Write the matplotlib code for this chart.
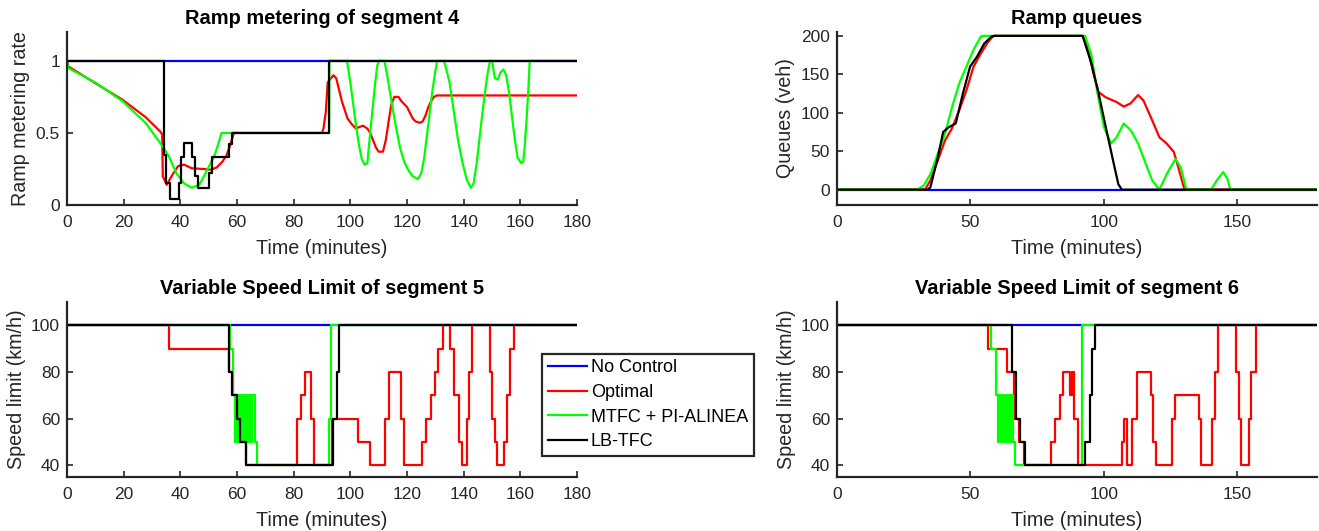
import numpy as np
import matplotlib.pyplot as plt

plt.rcParams['font.family'] = ['Liberation Sans', 'DejaVu Sans']

# ---------------- ramp metering of segment 4 ----------------
rm_opt_t = [0, 0.5, 1.4, 10, 19.6, 27.7, 32.9, 33.6, 33.8, 35.2, 37.2, 39.2, 41.3, 44, 48, 50.7, 52.8,
            54.8, 56.2, 57.5, 58.9, 90, 90.5, 91.3, 92, 94, 95, 96, 97, 98, 99, 100.5, 102, 103, 104.5,
            106, 107, 108, 109, 110, 111.5, 112.5, 113.5, 114.5, 115.5, 117, 118, 119, 120, 121, 122,
            123, 124.5, 125.5, 126.5, 127.5, 128.5, 129.5, 130.5, 180]
rm_opt_v = [1, 0.96, 0.95, 0.845, 0.73, 0.61, 0.51, 0.49, 0.2, 0.14, 0.21, 0.27, 0.28, 0.255, 0.25, 0.245,
            0.26, 0.3, 0.34, 0.41, 0.5, 0.5, 0.53, 0.64, 0.85, 0.9, 0.88, 0.8, 0.72, 0.66, 0.6, 0.56, 0.53,
            0.54, 0.55, 0.53, 0.5, 0.45, 0.4, 0.37, 0.37, 0.45, 0.58, 0.7, 0.75, 0.75, 0.72, 0.7, 0.68,
            0.64, 0.6, 0.58, 0.57, 0.58, 0.62, 0.68, 0.72, 0.75, 0.76, 0.76]

rm_mtfc_t = [0, 0.5, 1.4, 10, 19.6, 27.7, 32.9, 35.9, 38.6, 41.3, 44, 46.7, 49.4, 52, 53.5, 54.5, 92.5,
             92.6, 98.8, 100, 101, 102, 103, 104, 105, 106, 106.5, 107.5, 108.5, 109.5, 110.2, 112,
             113, 114.5, 116, 117.5, 119, 120.5, 122, 123.8, 125, 126, 127, 128, 129, 130, 130.6, 133,
             133.5, 135, 136.5, 138, 139.5, 141, 142.5, 143.5, 144.5, 145.5, 146.5, 147.5, 148.5,
             149.3, 150, 151, 152, 153, 154, 155, 156, 157, 158, 159, 160.3, 161, 161.5, 162.2,
             162.8, 163.3, 180]
rm_mtfc_v = [1, 0.95, 0.94, 0.85, 0.72, 0.57, 0.43, 0.34, 0.22, 0.15, 0.12, 0.14, 0.24, 0.34, 0.43, 0.5,
             0.5, 1, 1, 0.85, 0.7, 0.55, 0.42, 0.32, 0.28, 0.29, 0.4, 0.6, 0.8, 0.97, 1, 1, 0.9, 0.72,
             0.55, 0.4, 0.3, 0.24, 0.2, 0.18, 0.22, 0.32, 0.48, 0.64, 0.8, 0.93, 1, 1, 0.97, 0.85,
             0.65, 0.45, 0.3, 0.18, 0.12, 0.15, 0.28, 0.45, 0.62, 0.78, 0.92, 1, 1, 0.88, 0.87, 0.92,
             0.94, 0.9, 0.78, 0.62, 0.46, 0.33, 0.29, 0.3, 0.4, 0.6, 0.8, 1, 1]

rm_lb_t = [0, 34.2, 35, 36.2, 39.5, 40.3, 41.2, 44, 45.3, 46.4, 50, 51.3, 57, 58.3, 92.3, 180]
rm_lb_v = [1, 0.35, 0.15, 0.04, 0.15, 0.33, 0.43, 0.33, 0.2, 0.12, 0.22, 0.33, 0.42, 0.5, 1, 1]

# ---------------- ramp queues ----------------
q_opt_t = [0, 33, 35, 37.8, 40.5, 43, 45.8, 48.5, 51.2, 53.9, 56.6, 58.6, 92, 94, 96, 98, 100.8, 104.8,
           107.5, 110, 112.9, 114.9, 118.2, 120.9, 123.6, 126.3, 128.3, 130.3, 180]
q_opt_v = [0, 0, 12, 38, 64, 79, 103, 129, 160, 177, 192, 200, 200, 186, 153, 127, 120, 114, 108, 112,
           123, 116, 90, 68, 60, 49, 25, 0, 0]

q_mtfc_t = [0, 30, 32.4, 35, 37.8, 40.5, 43.2, 45.8, 48.5, 51.2, 53.9, 54.6, 93, 95.4, 97.5, 100.1,
            102.8, 104.8, 107.5, 110.2, 112.9, 115.5, 118.2, 120.9, 123.6, 126.9, 128.9, 131, 140.3,
            142.4, 144.8, 146.4, 147.5, 180]
q_mtfc_v = [0, 0, 5, 20, 47, 73, 108, 138, 160, 182, 199, 200, 200, 175, 129, 81, 60, 68, 86, 77, 60,
            36, 12, 0, 20, 40, 29, 0, 0, 12, 23, 14, 0, 0]

q_lb_t = [0, 34, 35, 37.8, 39.8, 41.8, 44.5, 47.2, 49.9, 52.5, 55.2, 57.9, 59.2, 92.1, 95.4, 98.1,
          100.8, 103.5, 105.5, 106.8, 180]
q_lb_v = [0, 0, 3, 42, 75, 81, 86, 125, 160, 173, 190, 199, 200, 200, 164, 125, 81, 38, 7, 0, 0]

# ---------------- variable speed limit, segment 5 ----------------
v5_opt_t = [0, 36, 57, 58.5, 60, 61, 63, 81, 82.5, 84, 86, 87, 93.5, 102.8, 107, 112.3, 113.5, 117.8,
            119, 125.3, 126.8, 128.3, 129.8, 131, 132.6, 135.2, 136.5, 138.3, 139.3, 141.2, 142, 143,
            149.1, 150, 151, 151.6, 154.3, 155.2, 156.2, 157.6, 180]
v5_opt_v = [100, 90, 80, 70, 60, 50, 40, 60, 70, 80, 60, 40, 60, 50, 40, 60, 80, 60, 40, 50, 60, 70,
            80, 90, 100, 90, 70, 50, 40, 60, 80, 100, 80, 60, 50, 40, 50, 70, 90, 100, 100]

v5_mtfc_t = [0, 57.5, 58.5, 59.3, 60, 60.6, 61.3, 62, 62.7, 63.4, 64.1, 64.8, 65.4, 66.2, 67.2, 92.4,
             93, 180]
v5_mtfc_v = [100, 90, 70, 50, 70, 50, 70, 50, 70, 50, 70, 50, 70, 50, 40, 60, 100, 100]

v5_lb_t = [0, 57, 58.3, 60, 61, 63.2, 93.8, 95.2, 96, 180]
v5_lb_v = [100, 80, 70, 60, 50, 40, 60, 80, 100, 100]

# ---------------- variable speed limit, segment 6 ----------------
v6_opt_t = [0, 56.6, 63.7, 66.3, 68.3, 70, 80.4, 81.7, 83.6, 84.6, 87.4, 88.2, 89, 90.4, 106.8, 107.8,
            108.6, 110.8, 112.4, 117.6, 118.5, 119.5, 125.6, 126.6, 135.6, 136.6, 140.8, 141.8, 142.8,
            149.7, 150.6, 151.6, 154.4, 155.3, 157.1, 180]
v6_opt_v = [100, 90, 80, 60, 50, 40, 50, 60, 70, 80, 70, 80, 60, 40, 50, 60, 40, 60, 80, 70, 50, 40,
            60, 70, 60, 40, 60, 80, 100, 80, 60, 40, 60, 80, 100, 100]

v6_mtfc_t = [0, 57.6, 59.5, 60.3, 60.9, 61.5, 62.1, 62.7, 63.3, 63.9, 64.5, 65.1, 65.7, 66, 66.8, 92,
             180]
v6_mtfc_v = [100, 90, 70, 50, 70, 50, 70, 50, 70, 50, 70, 50, 70, 50, 40, 100, 100]

v6_lb_t = [0, 65.7, 67, 68.6, 70.5, 93, 95, 95.7, 96.7, 180]
v6_lb_v = [100, 80, 60, 50, 40, 50, 70, 90, 100, 100]

names = ['No Control', 'Optimal', 'MTFC + PI-ALINEA', 'LB-TFC']
colors = ['#0000ff', '#ff0000', '#00ff00', '#000000']
gray = (0.15, 0.15, 0.15)

fig = plt.figure(figsize=(13.19, 5.31), dpi=100)
ax1 = fig.add_axes([0.0508, 0.6139, 0.3867, 0.3258])
ax2 = fig.add_axes([0.6346, 0.6139, 0.3639, 0.3258])
ax3 = fig.add_axes([0.0508, 0.1017, 0.3867, 0.3296])
ax4 = fig.add_axes([0.6346, 0.1017, 0.3639, 0.3296])

lw = 1.6
tsize = 14.4
lsize = 14.2

# panel 1
ax1.plot([0, 180], [1, 1], color=colors[0], lw=lw)
ax1.plot(rm_opt_t, rm_opt_v, color=colors[1], lw=lw)
ax1.plot(rm_mtfc_t, rm_mtfc_v, color=colors[2], lw=lw)
ax1.plot(rm_lb_t, rm_lb_v, color=colors[3], lw=lw, drawstyle='steps-post')
ax1.set_xlim(0, 180)
ax1.set_ylim(0, 1.2)
ax1.set_xticks(np.arange(0, 181, 20))
ax1.set_yticks([0, 0.5, 1])
ax1.set_yticklabels(['0', '0.5', '1'])
ax1.set_title('Ramp metering of segment 4', fontweight='bold', fontsize=tsize)
ax1.set_ylabel('Ramp metering rate')
ax1.set_xlabel('Time (minutes)')

# panel 2
ax2.plot([0, 180], [0, 0], color=colors[0], lw=lw)
ax2.plot(q_opt_t, q_opt_v, color=colors[1], lw=lw)
ax2.plot(q_mtfc_t, q_mtfc_v, color=colors[2], lw=lw)
ax2.plot(q_lb_t, q_lb_v, color=colors[3], lw=lw)
ax2.set_xlim(0, 180)
ax2.set_ylim(-20, 205)
ax2.set_xticks([0, 50, 100, 150])
ax2.set_yticks([0, 50, 100, 150, 200])
ax2.set_title('Ramp queues', fontweight='bold', fontsize=tsize)
ax2.set_ylabel('Queues (veh)')
ax2.set_xlabel('Time (minutes)')

# panel 3
ax3.plot([0, 180], [100, 100], color=colors[0], lw=lw, label=names[0])
ax3.plot(v5_opt_t, v5_opt_v, color=colors[1], lw=lw, drawstyle='steps-post', label=names[1])
ax3.plot(v5_mtfc_t, v5_mtfc_v, color=colors[2], lw=lw, drawstyle='steps-post', label=names[2])
ax3.plot(v5_lb_t, v5_lb_v, color=colors[3], lw=lw, drawstyle='steps-post', label=names[3])
ax3.set_xlim(0, 180)
ax3.set_ylim(35, 110)
ax3.set_xticks(np.arange(0, 181, 20))
ax3.set_yticks([40, 60, 80, 100])
ax3.set_title('Variable Speed Limit of segment 5', fontweight='bold', fontsize=tsize)
ax3.set_ylabel('Speed limit (km/h)')
ax3.set_xlabel('Time (minutes)')

# panel 4
ax4.plot([0, 180], [100, 100], color=colors[0], lw=lw)
ax4.plot(v6_opt_t, v6_opt_v, color=colors[1], lw=lw, drawstyle='steps-post')
ax4.plot(v6_mtfc_t, v6_mtfc_v, color=colors[2], lw=lw, drawstyle='steps-post')
ax4.plot(v6_lb_t, v6_lb_v, color=colors[3], lw=lw, drawstyle='steps-post')
ax4.set_xlim(0, 180)
ax4.set_ylim(35, 110)
ax4.set_xticks([0, 50, 100, 150])
ax4.set_yticks([40, 60, 80, 100])
ax4.set_title('Variable Speed Limit of segment 6', fontweight='bold', fontsize=tsize)
ax4.set_ylabel('Speed limit (km/h)')
ax4.set_xlabel('Time (minutes)')

for ax in [ax1, ax2, ax3, ax4]:
    ax.spines['top'].set_visible(False)
    ax.spines['right'].set_visible(False)
    for s in ['left', 'bottom']:
        ax.spines[s].set_color(gray)
        ax.spines[s].set_linewidth(1.6)
    ax.tick_params(direction='in', length=4, width=1.2, colors=gray, labelsize=12.5)
    ax.tick_params(axis='x', pad=7)
    ax.tick_params(axis='y', pad=5)
    ax.xaxis.label.set_color(gray)
    ax.yaxis.label.set_color(gray)
    ax.xaxis.label.set_size(lsize)
    ax.yaxis.label.set_size(lsize)
    ax.xaxis.labelpad = 7
    ax.title.set_position((0.5, 1.0))

leg = ax3.legend(loc='upper left', bbox_to_anchor=(0.411, 0.3333), bbox_transform=fig.transFigure,
                 fancybox=False, framealpha=1, edgecolor=gray, fontsize=13, handlelength=2.2,
                 handletextpad=0.2, labelspacing=0.42, borderpad=0.3, borderaxespad=0)
leg.get_frame().set_linewidth(1.6)

fig.savefig('out.png', dpi=100)
